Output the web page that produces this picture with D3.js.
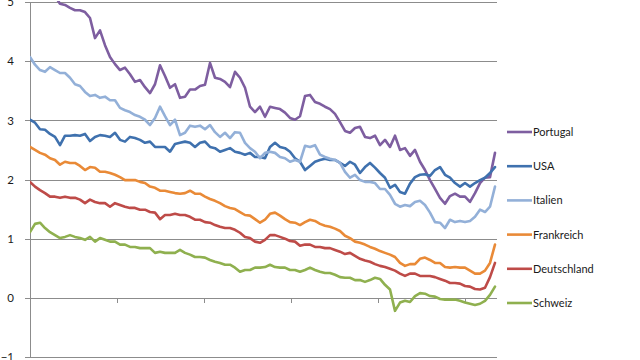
<!DOCTYPE html>
<html><head><meta charset="utf-8">
<script src="https://cdn.jsdelivr.net/npm/d3@7"></script>
<style>
html,body{margin:0;padding:0;background:#fff;}
svg{display:block;font-family:Lato,"Open Sans",sans-serif;}
</style></head>
<body>
<svg id="chart" width="640" height="360"></svg>
<script>
const seriesNames = ["Portugal","USA","Italien","Frankreich","Deutschland","Schweiz"];
const seriesColors = ["#7E5EA0","#3F71AE","#93B0D8","#E98A37","#BE4B48","#8FB04F"];
const yTickValues = [-1,0,1,2,3,4,5];

const portugal = [5.9,5.75,5.6,5.5,5.3,5.1,4.97,4.95,4.90,4.86,
4.86,4.83,4.73,4.39,4.52,4.27,4.07,3.95,3.85,3.89,
3.78,3.65,3.68,3.56,3.46,3.61,3.93,3.75,3.55,3.61,
3.38,3.40,3.52,3.52,3.58,3.60,3.97,3.72,3.70,3.65,
3.56,3.82,3.72,3.55,3.23,3.14,3.23,3.06,3.23,3.21,
3.19,3.13,3.04,3.01,3.07,3.41,3.43,3.31,3.28,3.23,
3.19,3.11,2.97,2.82,2.79,2.87,2.89,2.72,2.70,2.74,
2.58,2.67,2.55,2.74,2.50,2.53,2.40,2.50,2.30,2.16,
1.99,1.84,1.69,1.59,1.72,1.76,1.71,1.71,1.62,1.77,
1.94,2.03,2.04,2.45];
const usa = [3.01,2.96,2.85,2.84,2.77,2.72,2.58,2.74,2.74,2.75,
2.74,2.77,2.65,2.72,2.75,2.74,2.72,2.79,2.67,2.64,
2.72,2.70,2.67,2.62,2.64,2.55,2.55,2.55,2.47,2.60,
2.62,2.64,2.62,2.55,2.62,2.64,2.55,2.53,2.47,2.50,
2.53,2.47,2.45,2.42,2.45,2.38,2.38,2.36,2.55,2.62,
2.55,2.53,2.47,2.36,2.30,2.16,2.23,2.30,2.33,2.35,
2.33,2.33,2.28,2.23,2.30,2.25,2.11,2.21,2.28,2.20,
2.11,2.03,1.86,1.91,1.79,1.76,1.93,2.04,2.08,2.09,
2.06,2.16,2.21,2.08,2.03,1.94,1.88,1.94,1.88,1.94,
1.99,2.03,2.11,2.21];
const italien = [4.07,3.94,3.85,3.82,3.90,3.85,3.80,3.80,3.72,3.61,
3.58,3.48,3.41,3.43,3.38,3.40,3.34,3.34,3.21,3.17,
3.14,3.09,3.06,3.01,2.92,3.04,3.23,3.07,2.92,3.01,
2.75,2.79,2.91,2.89,2.91,2.85,2.92,2.80,2.72,2.79,
2.70,2.80,2.79,2.62,2.53,2.47,2.36,2.45,2.47,2.45,
2.38,2.36,2.30,2.33,2.30,2.57,2.55,2.58,2.42,2.38,
2.35,2.33,2.28,2.13,2.03,2.08,1.99,1.96,1.96,1.94,
1.84,1.84,1.74,1.59,1.54,1.57,1.55,1.62,1.64,1.57,
1.44,1.28,1.27,1.18,1.32,1.28,1.30,1.28,1.30,1.37,
1.49,1.45,1.54,1.88];
const frankreich = [2.55,2.50,2.45,2.42,2.36,2.33,2.25,2.30,2.28,2.28,
2.23,2.16,2.21,2.20,2.13,2.13,2.11,2.08,2.04,1.99,
1.99,1.99,1.96,1.94,1.88,1.86,1.81,1.81,1.79,1.77,
1.76,1.77,1.81,1.76,1.76,1.71,1.67,1.64,1.60,1.55,
1.52,1.50,1.45,1.40,1.39,1.33,1.27,1.32,1.42,1.44,
1.39,1.33,1.28,1.27,1.23,1.28,1.32,1.30,1.25,1.22,
1.20,1.17,1.13,1.05,1.01,0.95,0.93,0.90,0.86,0.83,
0.79,0.76,0.73,0.69,0.59,0.54,0.57,0.57,0.66,0.68,
0.64,0.59,0.59,0.52,0.51,0.52,0.51,0.51,0.46,0.41,
0.41,0.46,0.59,0.90];
const deutschland = [1.96,1.88,1.82,1.77,1.71,1.71,1.69,1.71,1.69,1.69,
1.66,1.60,1.66,1.62,1.60,1.60,1.54,1.60,1.57,1.54,
1.52,1.52,1.49,1.49,1.45,1.44,1.33,1.40,1.40,1.42,
1.40,1.40,1.37,1.32,1.32,1.28,1.27,1.23,1.20,1.18,
1.18,1.15,1.10,1.03,1.01,0.95,0.93,0.98,1.06,1.06,
1.03,1.00,0.96,0.95,0.88,0.90,0.90,0.86,0.86,0.84,
0.84,0.81,0.78,0.74,0.76,0.71,0.66,0.63,0.61,0.57,
0.54,0.52,0.49,0.46,0.41,0.37,0.41,0.41,0.37,0.37,
0.37,0.35,0.32,0.29,0.25,0.25,0.24,0.20,0.19,0.15,
0.14,0.17,0.35,0.59];
const schweiz = [1.11,1.25,1.27,1.18,1.11,1.06,1.01,1.03,1.06,1.03,
1.01,0.98,1.03,0.95,1.01,0.98,0.95,0.95,0.90,0.90,
0.86,0.86,0.84,0.84,0.84,0.76,0.78,0.76,0.76,0.76,
0.81,0.76,0.73,0.69,0.69,0.68,0.64,0.61,0.59,0.56,
0.56,0.51,0.44,0.47,0.47,0.51,0.51,0.52,0.56,0.52,
0.51,0.51,0.47,0.47,0.44,0.47,0.51,0.47,0.44,0.42,
0.42,0.39,0.35,0.34,0.34,0.30,0.30,0.27,0.30,0.34,
0.32,0.22,0.14,-0.22,-0.08,-0.05,-0.07,0.03,0.08,0.07,
0.03,0.02,-0.02,-0.03,-0.03,-0.03,-0.05,-0.08,-0.10,-0.12,
-0.10,-0.05,0.05,0.19];

const seriesValues = [portugal, usa, italien, frankreich, deutschland, schweiz];
const periods = d3.range(portugal.length);
// category tick marks every 17.4 periods
const xTickValues = [0, 17.4, 34.8, 52.2, 69.6, 87];

const svg = d3.select("#chart");
const plot = {left: 30, right: 497, top: 2, bottom: 357};

const x = d3.scaleLinear().domain([0, periods.length - 1 + 0.4]).range([plot.left, plot.right]);
const y = d3.scaleLinear().domain([-1, 5]).range([plot.bottom, plot.top]);

// gridlines
const grid = svg.append("g").attr("transform", `translate(${plot.left},0)`)
  .call(d3.axisLeft(y).tickValues(yTickValues).tickSize(-(plot.right - plot.left)).tickFormat(""));
grid.select(".domain").remove();
grid.selectAll("line").attr("stroke", "#8c8c8c").attr("stroke-width", 1).attr("shape-rendering", "crispEdges");

// y axis
const yAxis = svg.append("g").attr("transform", `translate(${plot.left},0)`)
  .call(d3.axisLeft(y).tickValues(yTickValues).tickSize(5).tickPadding(11).tickFormat(d3.format("d")));
yAxis.select(".domain").attr("stroke", "#8c8c8c").attr("shape-rendering", "crispEdges");
yAxis.selectAll("line").attr("stroke", "#8c8c8c").attr("shape-rendering", "crispEdges");
yAxis.selectAll("text").attr("font-size", 11.5).attr("fill", "#1a1a1a").attr("font-family", "Lato, sans-serif");

// x axis at 0
const xAxis = svg.append("g").attr("transform", `translate(0,${y(0)})`)
  .call(d3.axisBottom(x).tickValues(xTickValues).tickSize(5).tickFormat(""));
xAxis.select(".domain").remove();
xAxis.selectAll("line").attr("stroke", "#8c8c8c").attr("shape-rendering", "crispEdges");

// clip
svg.append("clipPath").attr("id", "clip").append("rect")
  .attr("x", plot.left).attr("y", plot.top - 1).attr("width", plot.right - plot.left).attr("height", plot.bottom - plot.top + 2);

const line = d3.line().x((d, i) => x(periods[i])).y(d => y(d));

const lines = svg.append("g").attr("clip-path", "url(#clip)");
// draw in reverse order so first series ends up on top like Excel? Excel draws first series first.
seriesValues.forEach((vals, k) => {
  lines.append("path").datum(vals)
    .attr("d", line)
    .attr("fill", "none")
    .attr("stroke", seriesColors[k])
    .attr("stroke-width", 2.6)
    .attr("stroke-linejoin", "round")
    .attr("stroke-linecap", "round");
});

// legend
const legend = svg.append("g").attr("transform", "translate(507,132)");
seriesNames.forEach((name, k) => {
  const g = legend.append("g").attr("transform", `translate(0,${k * 34.2})`);
  g.append("line").attr("x1", 0).attr("x2", 25).attr("y1", 0).attr("y2", 0)
    .attr("stroke", seriesColors[k]).attr("stroke-width", 2.6);
  g.append("text").attr("x", 26).attr("y", 4).attr("font-size", 11)
    .attr("fill", "#1a1a1a").text(name);
});
</script>
</body></html>
